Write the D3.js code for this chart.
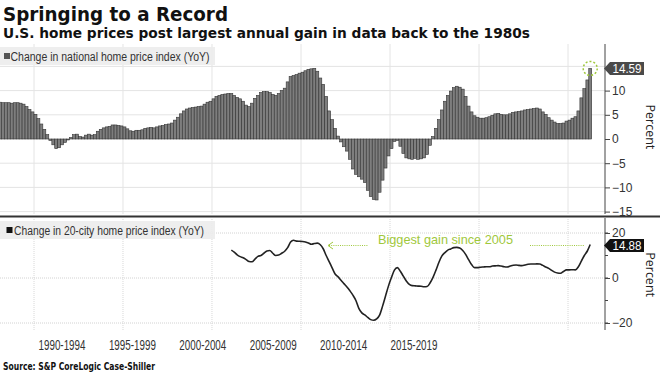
<!DOCTYPE html>
<html>
<head>
<meta charset="utf-8">
<script src="https://cdn.jsdelivr.net/npm/d3@7"></script>
<style>
  body { margin: 0; background: #fff; }
  svg { display: block; font-family: "Liberation Sans", Arial, sans-serif; }
</style>
</head>
<body>
<svg id="chart" width="660" height="372"></svg>
<script>
// national home price index, YoY %, every other month (Feb, Apr, Jun, Aug, Oct, Dec) from Feb 1988 to Apr 2021
var nationalYoY = [
  7.6, 7.5, 7.5, 7.5, 7.4, 7.5,        // 1988
  7.5, 7.4, 7.2, 6.7, 6.1, 5.6,        // 1989
  5.1, 4.2, 3.1, 2.0, 0.9, -0.3,       // 1990
  -1.2, -2.0, -1.8, -1.2, -0.7, -0.2,  // 1991
  0.3, 0.9, 1.0, 0.5, 0.4, 0.8,        // 1992
  1.0, 0.8, 0.9, 1.6, 2.0, 2.3,        // 1993
  2.5, 2.6, 2.9, 2.9, 2.8, 2.7,        // 1994
  2.5, 2.1, 1.7, 1.6, 1.8, 1.8,        // 1995
  1.9, 2.2, 2.3, 2.4, 2.3, 2.5,        // 1996
  2.7, 2.8, 3.0, 3.1, 3.3, 3.9,        // 1997
  4.5, 5.2, 5.8, 6.2, 6.4, 6.5,        // 1998
  6.6, 6.7, 6.8, 7.2, 7.6, 7.8,        // 1999
  8.3, 8.8, 9.0, 9.2, 9.3, 9.4,        // 2000
  9.4, 9.0, 8.6, 8.3, 7.8, 7.0,        // 2001
  6.7, 7.4, 8.4, 9.0, 9.6, 9.8,        // 2002
  9.8, 9.6, 9.2, 9.0, 9.4, 10.0,       // 2003
  10.5, 11.8, 12.9, 13.1, 13.3, 13.6,  // 2004
  13.8, 14.1, 14.4, 14.5, 14.6, 14.0,  // 2005
  12.6, 11.3, 8.8, 5.8, 4.0, 2.2,      // 2006
  0.6, -0.6, -1.6, -2.5, -4.2, -6.2,   // 2007
  -7.3, -7.8, -8.3, -9.0, -10.6, -11.9, // 2008
  -12.5, -12.6, -11.0, -8.5, -6.0, -3.5, // 2009
  -2.0, -0.5, -0.3, -1.5, -3.0, -3.9,  // 2010
  -4.1, -4.2, -4.0, -4.2, -4.1, -3.9,  // 2011
  -3.2, -1.3, 0.5, 2.2, 4.0, 6.0,      // 2012
  7.8, 9.0, 9.9, 10.6, 10.9, 10.7,     // 2013
  10.3, 8.8, 6.8, 5.6, 4.8, 4.5,       // 2014
  4.3, 4.3, 4.4, 4.6, 4.9, 5.2,        // 2015
  5.3, 5.1, 5.0, 5.0, 5.2, 5.5,        // 2016
  5.6, 5.7, 5.8, 6.0, 6.1, 6.2,        // 2017
  6.3, 6.4, 6.2, 5.6, 5.1, 4.4,        // 2018
  3.9, 3.5, 3.2, 3.2, 3.3, 3.7,        // 2019
  3.9, 4.3, 4.6, 5.8, 8.5, 10.4,       // 2020
  12.2, 14.59                           // 2021
];

// 20-city index, YoY %, same months, Feb 2001 to Apr 2021
var cityYoY = [
  12.4, 11.5, 10.3, 9.5, 9.0, 8.2,     // 2001
  7.3, 7.2, 8.4, 9.6, 10.0, 11.0,      // 2002
  12.0, 12.2, 11.0, 10.0, 10.2, 11.0,  // 2003
  11.9, 13.5, 16.0, 16.8, 16.4, 16.3,  // 2004
  16.2, 16.0, 15.6, 15.0, 15.3, 15.5,  // 2005
  14.8, 13.0, 10.0, 7.3, 4.5, 1.8,     // 2006
  0.5, -1.0, -2.5, -4.0, -5.7, -7.6,   // 2007
  -10.0, -13.5, -15.5, -16.4, -17.5, -18.5, // 2008
  -18.8, -18.2, -16.5, -12.5, -8.0, -3.5,   // 2009
  0.3, 3.5, 4.6, 3.0, 0.8, -1.3,       // 2010
  -2.8, -3.4, -3.5, -3.6, -3.7, -3.9,  // 2011
  -3.8, -2.2, 0.3, 3.5, 7.0, 9.8,      // 2012
  11.3, 12.4, 12.9, 13.5, 13.6, 13.3,  // 2013
  12.2, 10.5, 8.2, 6.0, 4.6, 4.6,      // 2014
  4.8, 4.9, 5.0, 5.0, 5.3, 5.4,        // 2015
  5.5, 5.3, 5.0, 4.9, 5.3, 5.7,        // 2016
  5.8, 5.6, 5.5, 5.8, 6.1, 6.2,        // 2017
  6.2, 6.3, 6.2, 5.6, 4.9, 4.3,        // 2018
  3.4, 2.6, 2.2, 2.1, 2.9, 3.6,        // 2019
  3.6, 3.7, 3.6, 5.0, 7.5, 10.0,       // 2020
  12.0, 14.88                           // 2021
];

var periodLabels = ["1990-1994", "1995-1999", "2000-2004", "2005-2009", "2010-2014", "2015-2019"];
var topTicks = [-15, -10, -5, 0, 5, 10];
var topGrid = [-15, -10, -5, 5, 10, 15];
var bottomTicks = [-20, 0, 20];
var bottomMinor = [-20, -10, 0, 10, 20];

var nationalStart = new Date(1988, 1, 1);
var cityStart = new Date(2001, 1, 1);

var nat = nationalYoY.map(function(v, i) { return {date: d3.timeMonth.offset(nationalStart, 2 * i), value: v}; });
var city = cityYoY.map(function(v, i) { return {date: d3.timeMonth.offset(cityStart, 2 * i), value: v}; });

var svg = d3.select("#chart");
var green = "#9fc83c";
var axisX = 605;

var x = d3.scaleTime()
    .domain([new Date(1990, 0, 1), new Date(2020, 0, 1)])
    .range([34, 568]);

var yTop = d3.scaleLinear().domain([-15, 10]).range([211.6, 90.6]);
var yBot = d3.scaleLinear().domain([-20, 20]).range([323, 233]);

var labelX = d3.scalePoint().domain(periodLabels).range([62, 414]);

// titles
svg.append("text")
    .attr("x", 3).attr("y", 21)
    .attr("font-family", "DejaVu Sans").attr("font-weight", "bold")
    .attr("font-size", 20).attr("fill", "#111")
    .attr("textLength", 225).attr("lengthAdjust", "spacingAndGlyphs")
    .text("Springing to a Record");

svg.append("text")
    .attr("x", 3).attr("y", 38)
    .attr("font-family", "DejaVu Sans").attr("font-weight", "bold")
    .attr("font-size", 14).attr("fill", "#111")
    .attr("textLength", 527).attr("lengthAdjust", "spacingAndGlyphs")
    .text("U.S. home prices post largest annual gain in data back to the 1980s");

// vertical grid (both panels)
var gridYears = x.ticks(d3.timeYear.every(5));
svg.append("g").selectAll("line")
    .data(gridYears).join("line")
    .attr("x1", function(d) { return x(d); }).attr("x2", function(d) { return x(d); })
    .attr("y1", 44).attr("y2", 214)
    .attr("stroke", "#e4e4e4").attr("stroke-width", 1);
svg.append("g").selectAll("line")
    .data(gridYears).join("line")
    .attr("x1", function(d) { return x(d); }).attr("x2", function(d) { return x(d); })
    .attr("y1", 219).attr("y2", 330)
    .attr("stroke", "#d8d8d8").attr("stroke-dasharray", "1,1");

// horizontal grid, top
svg.append("g").selectAll("line")
    .data(topGrid).join("line")
    .attr("x1", 0).attr("x2", axisX)
    .attr("y1", function(d) { return yTop(d); }).attr("y2", function(d) { return yTop(d); })
    .attr("stroke", "#e4e4e4");

// horizontal grid, bottom
svg.append("g").selectAll("line")
    .data(bottomTicks).join("line")
    .attr("x1", 0).attr("x2", axisX)
    .attr("y1", function(d) { return yBot(d); }).attr("y2", function(d) { return yBot(d); })
    .attr("stroke", "#d2d2d2").attr("stroke-dasharray", "1,1");

// bars
var barW = x(nat[1].date) - x(nat[0].date);
svg.append("g").selectAll("rect")
    .data(nat).join("rect")
    .attr("x", function(d) { return x(d.date) - barW / 2; })
    .attr("width", barW)
    .attr("y", function(d) { return yTop(Math.max(0, d.value)); })
    .attr("height", function(d) { return Math.abs(yTop(d.value) - yTop(0)); })
    .attr("fill", "#7e7e7e")
    .attr("stroke", "#333")
    .attr("stroke-width", 0.6);

// line
var line = d3.line()
    .x(function(d) { return x(d.date); })
    .y(function(d) { return yBot(d.value); })
    .curve(d3.curveMonotoneX);

svg.append("path")
    .datum(city)
    .attr("fill", "none")
    .attr("stroke", "#222")
    .attr("stroke-width", 1.6)
    .attr("stroke-linejoin", "round")
    .attr("d", line);

// legends
function legend(yy, sqX, sqFill, textX, textW, label) {
  var g = svg.append("g").attr("transform", "translate(0," + yy + ")");
  g.append("rect").attr("x", 0).attr("y", 0).attr("width", 215).attr("height", 18)
      .attr("fill", "#ececec").attr("fill-opacity", 0.9);
  g.append("rect").attr("x", sqX).attr("y", 6).attr("width", 6).attr("height", 6).attr("fill", sqFill);
  g.append("text").attr("x", textX).attr("y", 13.5)
      .attr("font-size", 12).attr("fill", "#333")
      .attr("textLength", textW).attr("lengthAdjust", "spacingAndGlyphs")
      .text(label);
}
legend(47, 4, "#555", 10.5, 199, "Change in national home price index (YoY)");
legend(221, 6.5, "#111", 14, 190, "Change in 20-city home price index (YoY)");

// right axes
var topAxis = svg.append("g")
    .attr("transform", "translate(" + axisX + ",0)")
    .call(d3.axisRight(yTop).tickValues(topTicks).tickSize(5).tickPadding(2).tickFormat(d3.format("d")));
topAxis.select(".domain").remove();
topAxis.append("line").attr("y1", 44).attr("y2", 214).attr("stroke", "#444");

var botAxis = svg.append("g")
    .attr("transform", "translate(" + axisX + ",0)")
    .call(d3.axisRight(yBot).tickValues(bottomTicks).tickSize(5).tickPadding(2).tickFormat(d3.format("d")));
botAxis.select(".domain").remove();
botAxis.append("line").attr("y1", 218).attr("y2", 330).attr("stroke", "#444");
botAxis.selectAll(".minor").data(bottomMinor).join("line")
    .attr("class", "minor")
    .attr("x2", 3)
    .attr("y1", function(d) { return yBot(d); }).attr("y2", function(d) { return yBot(d); })
    .attr("stroke", "#444");

svg.selectAll(".tick text").attr("font-size", 12).attr("fill", "#333")
    .attr("font-family", "Liberation Sans, Arial, sans-serif");
svg.selectAll(".tick line").attr("stroke", "#444");

// "Percent" titles
[yTop(2.5), yBot(1.5)].forEach(function(cy) {
  svg.append("text")
      .attr("transform", "translate(646," + cy + ") rotate(90)")
      .attr("text-anchor", "middle")
      .attr("font-family", "Open Sans, DejaVu Sans, sans-serif")
      .attr("font-size", 12.5).attr("fill", "#222")
      .text("Percent");
});

// separator between panels
svg.append("line").attr("x1", 0).attr("x2", 660).attr("y1", 216.5).attr("y2", 216.5)
    .attr("stroke", "#333").attr("stroke-width", 2);

// highlight circle at latest national value
var lastNat = nat[nat.length - 1];
svg.append("circle")
    .attr("cx", x(lastNat.date)).attr("cy", yTop(lastNat.value)).attr("r", 7)
    .attr("fill", "none").attr("stroke", green).attr("stroke-width", 1.5)
    .attr("stroke-dasharray", "2,2");

// value tags
function tag(cy, label, fill) {
  var g = svg.append("g").attr("transform", "translate(" + axisX + "," + cy + ")");
  g.append("path").attr("d", "M-1,0 L5,-6.5 L39,-6.5 L39,6.5 L5,6.5 Z").attr("fill", fill);
  g.append("text").attr("x", 22).attr("y", 4.3).attr("text-anchor", "middle")
      .attr("font-size", 12).attr("fill", "#fff")
      .attr("textLength", 29).attr("lengthAdjust", "spacingAndGlyphs")
      .text(label);
}
tag(yTop(lastNat.value), "14.59", "#4a4a4a");
var lastCity = city[city.length - 1];
tag(yBot(lastCity.value) + 1, "14.88", "#111");

// "Biggest gain since 2005" annotation
var ay = yBot(lastCity.value) + 1;
svg.append("line").attr("x1", 329).attr("x2", 368).attr("y1", ay).attr("y2", ay)
    .attr("stroke", green).attr("stroke-width", 1.2).attr("stroke-dasharray", "1,1.2");
svg.append("line").attr("x1", 530).attr("x2", 585).attr("y1", ay).attr("y2", ay)
    .attr("stroke", green).attr("stroke-width", 1.2).attr("stroke-dasharray", "1,1.2");
svg.append("path").attr("d", "M333," + (ay - 3.5) + " L328," + ay + " L333," + (ay + 3.5))
    .attr("fill", "none").attr("stroke", green).attr("stroke-width", 1);
svg.append("text").attr("x", 378).attr("y", ay - 1.5)
    .attr("font-size", 13).attr("fill", green)
    .attr("textLength", 135).attr("lengthAdjust", "spacingAndGlyphs")
    .text("Biggest gain since 2005");

// period labels
svg.append("g").selectAll("text")
    .data(periodLabels).join("text")
    .attr("x", function(d) { return labelX(d) - 23.5; })
    .attr("y", 350)
    .attr("font-size", 14).attr("fill", "#333")
    .attr("textLength", 47).attr("lengthAdjust", "spacingAndGlyphs")
    .text(function(d) { return d; });

// source
svg.append("text")
    .attr("x", 3).attr("y", 370)
    .attr("font-family", "DejaVu Sans").attr("font-weight", "bold")
    .attr("font-size", 10).attr("fill", "#111")
    .attr("textLength", 152).attr("lengthAdjust", "spacingAndGlyphs")
    .text("Source: S&P CoreLogic Case-Shiller");
</script>
</body>
</html>
